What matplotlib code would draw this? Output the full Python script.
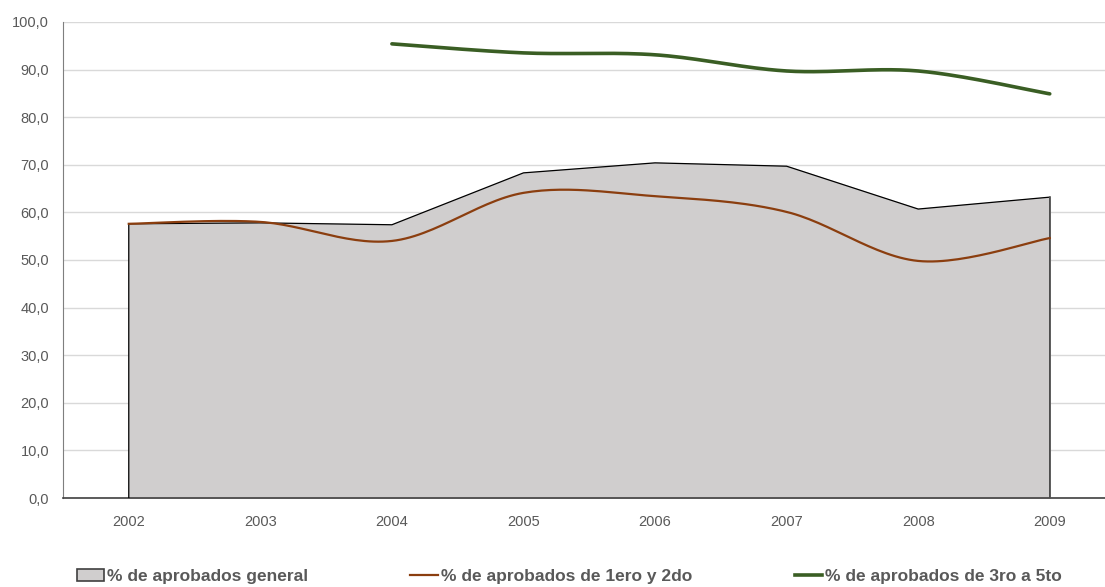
import numpy as np
import matplotlib.pyplot as plt
from matplotlib.patches import Patch
from matplotlib.lines import Line2D

plt.rcParams['font.family'] = ['Liberation Sans Narrow', 'Liberation Sans', 'DejaVu Sans']

years = ["2002", "2003", "2004", "2005", "2006", "2007", "2008", "2009"]
general = [57.6, 57.8, 57.4, 68.3, 70.4, 69.7, 60.7, 63.2]
primeros = [57.6, 58.0, 54.0, 64.1, 63.4, 60.1, 49.8, 54.6]
superiores = [None, None, 95.4, 93.5, 93.1, 89.7, 89.7, 84.9]

FILL = "#D0CECE"
BROWN = "#8B3E0F"
GREEN = "#3A5E24"
TXT = "#595959"


def smooth(x, y, n=30):
    # Catmull-Rom style smoothing, like Excel's "smoothed line"
    x = np.asarray(x, float); y = np.asarray(y, float)
    px = np.concatenate([[x[0]], x, [x[-1]]])
    py = np.concatenate([[y[0]], y, [y[-1]]])
    xs, ys = [], []
    for i in range(1, len(px) - 2):
        t = np.linspace(0, 1, n)
        for arr, out in ((px, xs), (py, ys)):
            p0, p1, p2, p3 = arr[i - 1], arr[i], arr[i + 1], arr[i + 2]
            m1 = (p2 - p0) / 6.0
            m2 = (p3 - p1) / 6.0
            b = ((1 - t) ** 3 * p1 + 3 * (1 - t) ** 2 * t * (p1 + m1)
                 + 3 * (1 - t) * t ** 2 * (p2 - m2) + t ** 3 * p2)
            out.extend(b)
    return np.array(xs), np.array(ys)


fig = plt.figure(figsize=(11.05, 5.87), dpi=100)
ax = fig.add_axes([0.057, 0.1516, 0.943, 0.811])

x = np.arange(len(years))
ax.fill_between(x, general, 0, color=FILL, zorder=2)
ax.plot(np.r_[x[0], x, x[-1]], np.r_[0, general, 0], color="black", lw=0.9, zorder=3)
ax.plot([x[-1], x[-1]], [0, general[-1]], color="#595959", lw=1.2, zorder=3)

sx, sy = smooth(x, primeros)
ax.plot(sx, sy, color=BROWN, lw=1.6, zorder=4)

idx = [i for i, v in enumerate(superiores) if v is not None]
sx, sy = smooth(x[idx], [superiores[i] for i in idx])
ax.plot(sx, sy, color=GREEN, lw=2.6, zorder=4, solid_capstyle="round")

ax.set_xlim(-0.5, 7.42)
ax.set_ylim(0, 100)
ax.set_yticks(np.arange(0, 101, 10))
ax.set_yticklabels([f"{v:.1f}".replace(".", ",") for v in np.arange(0, 101, 10)])
ax.set_xticks(x)
ax.set_xticklabels(years)
ax.tick_params(axis="both", length=0, colors=TXT, labelsize=10.5)
ax.tick_params(axis="x", pad=12)
ax.tick_params(axis="y", pad=10)
ax.grid(axis="y", color="#D9D9D9", lw=1, zorder=0)
ax.set_axisbelow(True)
for s in ("top", "right"):
    ax.spines[s].set_visible(False)
ax.spines["left"].set_color("#7F7F7F")
ax.spines["bottom"].set_color("#404040")
ax.spines["bottom"].set_linewidth(1.2)

handles = [
    Patch(facecolor=FILL, edgecolor="#404040", lw=1.2, label="% de aprobados general"),
    Line2D([], [], color=BROWN, lw=1.6, label="% de aprobados de 1ero y 2do"),
    Line2D([], [], color=GREEN, lw=2.6, label="% de aprobados de 3ro a 5to"),
]
leg = fig.legend(handles=handles, loc="center", bbox_to_anchor=(0.515, 0.018), ncol=3,
                 frameon=False, handlelength=1.6, handletextpad=0.15, columnspacing=5.9,
                 prop={"size": 12.5, "weight": "bold"})
for t in leg.get_texts():
    t.set_color(TXT)

fig.savefig("out.png", dpi=100)
